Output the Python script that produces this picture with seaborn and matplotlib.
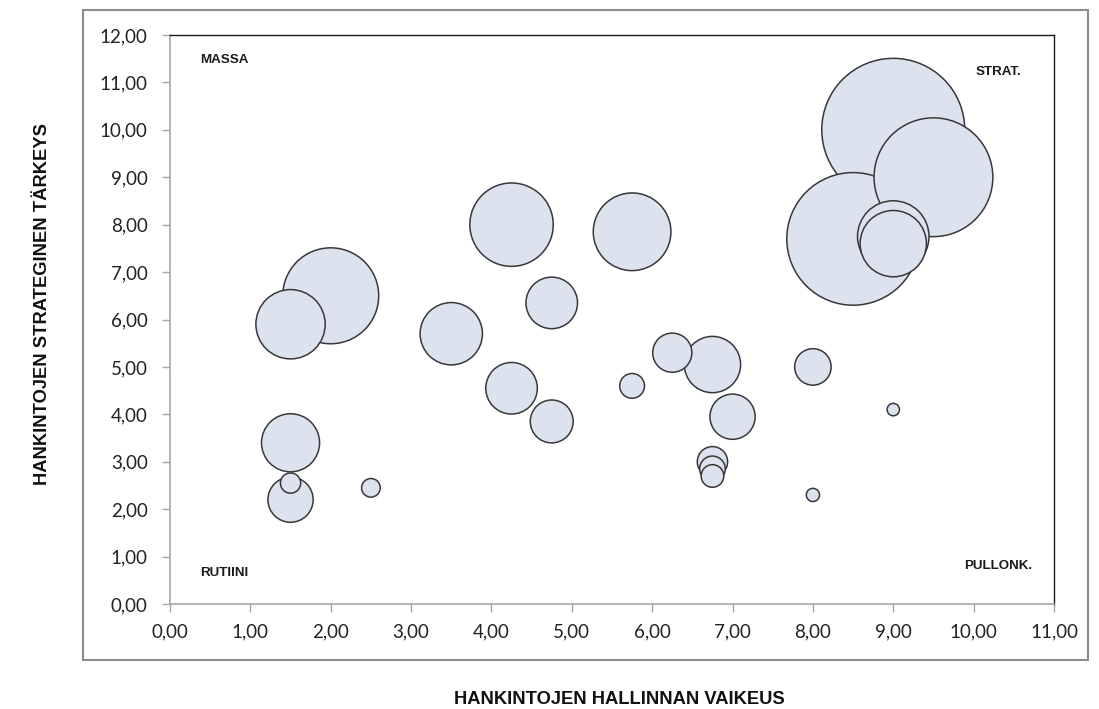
import matplotlib
matplotlib.use("Agg")
import matplotlib.pyplot as plt
from matplotlib.patches import Rectangle
from matplotlib.ticker import FixedLocator, FuncFormatter
import seaborn as sns
import pandas as pd

# Procurement portfolio: difficulty of managing vs strategic importance,
# bubble area = purchase volume (relative units)
difficulty = [1.5, 2.0, 1.5, 1.5, 1.5, 2.5, 3.5, 4.25, 4.25, 4.75, 4.75,
              5.75, 5.75, 6.25, 6.75, 6.75, 6.75, 6.75, 7.0, 8.0, 8.0,
              8.5, 9.0, 9.5, 9.0, 9.0, 9.0]
importance = [5.9, 6.5, 3.4, 2.2, 2.55, 2.45, 5.7, 8.0, 4.55, 6.35, 3.85,
              7.85, 4.6, 5.3, 5.05, 3.0, 2.85, 2.7, 3.95, 5.0, 2.3,
              7.7, 10.0, 9.0, 7.75, 7.6, 4.1]
volume = [23.5, 45.0, 16.5, 10.0, 2.0, 1.7, 19.0, 34.0, 13.0, 13.0, 9.0,
          29.5, 3.0, 7.5, 15.5, 4.5, 3.2, 2.5, 10.0, 6.5, 0.85,
          86.0, 100.0, 69.0, 25.0, 21.5, 0.75]

x_ticks = list(range(0, 12))
y_ticks = list(range(0, 13))
quadrants = ["MASSA", "STRAT.", "RUTIINI", "PULLONK."]
x_title = "HANKINTOJEN HALLINNAN VAIKEUS"
y_title = "HANKINTOJEN STRATEGINEN TÄRKEYS"

df = pd.DataFrame({"x": difficulty, "y": importance, "v": volume})
# largest bubbles first so the small ones stay visible on top
df = df.sort_values("v", ascending=False, kind="stable")

sns.set_style("white")
plt.rcParams["font.family"] = ["Lato", "DejaVu Sans"]

fig = plt.figure(figsize=(10.99, 7.09), dpi=100)
ax = fig.add_axes([170 / 1099, 105 / 709, 884 / 1099, 569 / 709])

sns.scatterplot(data=df, x="x", y="y", size="v", sizes=(0, 10600),
                size_norm=(0, 100), color="#DCE3EE", edgecolor="#383838",
                linewidth=1.1, alpha=1.0, legend=False, ax=ax, zorder=3)

ax.set_xlim(0, 11)
ax.set_ylim(0, 12)
ax.xaxis.set_major_locator(FixedLocator(x_ticks))
ax.yaxis.set_major_locator(FixedLocator(y_ticks))
fmt = FuncFormatter(lambda v, _: f"{v:.2f}".replace(".", ","))
ax.xaxis.set_major_formatter(fmt)
ax.yaxis.set_major_formatter(fmt)
ax.tick_params(axis="both", which="major", direction="out", length=6,
               width=1, color="#A6A6A6", labelsize=13.5, labelcolor="#222222",
               bottom=True, left=True)
ax.tick_params(axis="x", pad=8)
ax.tick_params(axis="y", pad=10)
ax.set_xlabel("")
ax.set_ylabel("")
ax.grid(False)

for side in ["left", "bottom"]:
    ax.spines[side].set_color("#A6A6A6")
    ax.spines[side].set_linewidth(1.2)
for side in ["top", "right"]:
    ax.spines[side].set_color("#1A1A1A")
    ax.spines[side].set_linewidth(1.0)

bold_sans = ["Liberation Sans", "DejaVu Sans"]
quad_pos = [(0.37, 11.48), (10.02, 11.22), (0.37, 0.65), (9.88, 0.80)]
for label, (qx, qy) in zip(quadrants, quad_pos):
    ax.text(qx, qy, label, fontsize=9.6, fontweight="bold", family=bold_sans,
            color="#1A1A1A", ha="left", va="center", zorder=5)

fig.text(619 / 1099, 1 - 700 / 709, x_title, fontsize=13.2, fontweight="bold",
         family=bold_sans, color="#111111", ha="center", va="center")
fig.text(43 / 1099, 1 - 304 / 709, y_title, fontsize=13.2, fontweight="bold",
         family=bold_sans, color="#111111", ha="center", va="center",
         rotation=90)

# chart-area frame around plot and tick labels
fig.patches.append(Rectangle((83 / 1099, 1 - 660 / 709), (1088 - 83) / 1099,
                             (660 - 10) / 709, transform=fig.transFigure,
                             fill=False, edgecolor="#8C8C8C", linewidth=1.5))

fig.savefig("out.png", dpi=100)
